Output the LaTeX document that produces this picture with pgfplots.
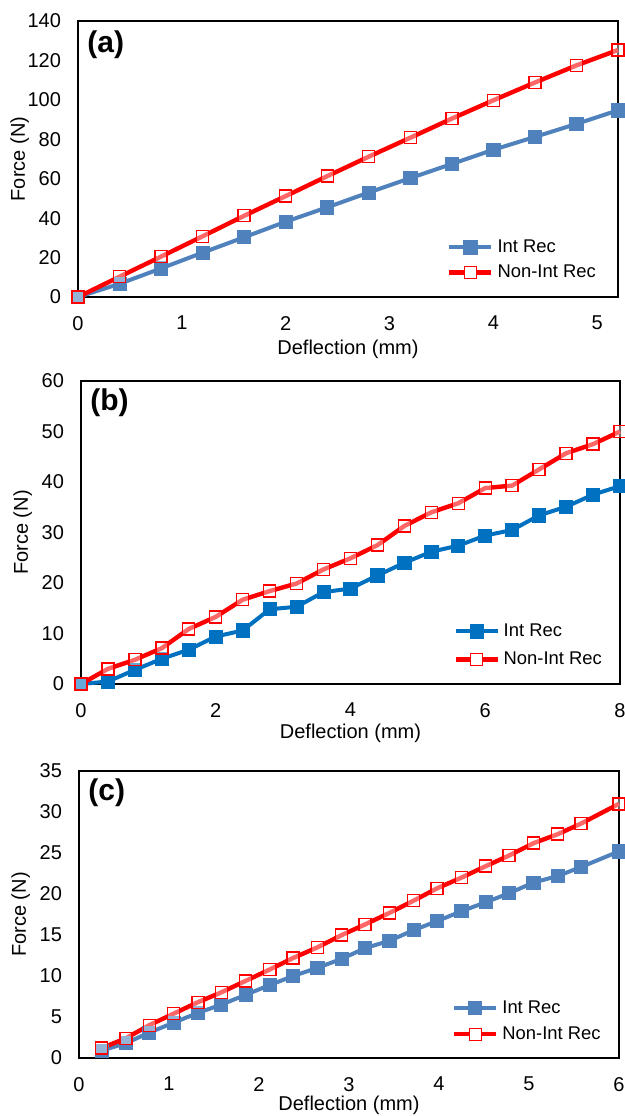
\documentclass[border=0pt]{standalone}
\usepackage{pgfplots}
\pgfplotsset{compat=1.18}
\usepackage{fontspec}
\setmainfont{Liberation Sans}

\definecolor{intA}{HTML}{4F81BD}
\definecolor{intB}{HTML}{0070C0}
\definecolor{nonint}{HTML}{FF0000}

\pgfplotsset{
  panel/.style={
    scale only axis,
    width=270pt,
    axis line style={black, line width=1pt},
    major tick length=0pt,
    xmin=0, ymin=0,
    clip=false,
    /pgf/number format/assume math mode=true,
    tick label style={font=\fontsize{10}{12}\selectfont},
    label style={font=\fontsize{10}{12}\selectfont},
    yticklabel style={xshift=-5pt},
    xticklabel style={yshift=-6pt},
    xlabel={Deflection (mm)},
    ylabel={Force (N)},
    ylabel style={at={(axis description cs:-0.108,0.5)}, anchor=center},
    legend cell align=left,
    legend image code/.code={
      \draw[mark repeat=2,mark phase=2,##1] plot coordinates {(0pt,0pt) (10.5pt,0pt) (21pt,0pt)};},
    legend style={draw=none, fill=none, inner sep=0pt,
      font=\fontsize{9.2}{11}\selectfont,
      nodes={inner sep=0pt, text height=7pt, text depth=2pt},
      /tikz/every odd column/.append style={column sep=2pt}},
  },
  intrec/.style={#1, line width=2pt, mark=square*, mark size=3.3pt,
    mark options={solid, line width=0.4pt, draw=#1, fill=#1}},
  nonrec/.style={nonint, line width=2.2pt, mark=square*, mark size=3pt,
    mark options={solid, line width=0.7pt, draw=nonint, fill=white, fill opacity=0.4}},
  nonleg/.style={nonint, line width=2.2pt, mark=square*, mark size=3pt,
    mark options={solid, line width=0.7pt, draw=nonint, fill=white}},
}

\begin{document}
\begin{tikzpicture}
\useasboundingbox (0,0) rectangle (312.5pt,-558pt);

% (a)
\begin{axis}[panel,
  at={(39pt,-148.5pt)}, anchor=south west,
  height=138pt,
  xmax=5.2, ymax=140,
  xtick={0,1,2,3,4,5}, ytick={0,20,...,140},
  xlabel style={at={(axis description cs:0.5,0)}, anchor=center, yshift=-26pt},
  legend style={at={(0.683,0.055)}, anchor=south west,
    /tikz/row sep=3.5pt},
]
\addlegendimage{intrec=intA}
\addlegendentry{Int Rec}
\addlegendimage{nonleg}
\addlegendentry{Non-Int Rec}
\addplot[intrec=intA, forget plot] coordinates {
  (0,0) (0.4,6.7) (0.8,14.5) (1.2,22.5) (1.6,30.3) (2.0,38.2) (2.4,45.5)
  (2.8,53.0) (3.2,60.3) (3.6,67.5) (4.0,74.7) (4.4,81.2) (4.8,87.8) (5.2,94.7)
};
\addplot[nonrec, forget plot] coordinates {
  (0,0) (0.4,10.3) (0.8,20.5) (1.2,30.8) (1.6,41.2) (2.0,51.2) (2.4,61.3)
  (2.8,71.2) (3.2,80.8) (3.6,90.5) (4.0,99.8) (4.4,108.8) (4.8,117.5) (5.2,125.3)
};
\node[anchor=north west, inner sep=0pt, font=\fontsize{15}{18}\selectfont\bfseries]
  at ([xshift=4.5pt,yshift=-4.5pt]rel axis cs:0,1) {(a)};
\end{axis}

% (b)
\begin{axis}[panel,
  at={(40.5pt,-342pt)}, anchor=south west,
  width=269.5pt, height=151.5pt,
  xmax=8, ymax=60,
  xtick={0,2,4,6,8}, ytick={0,10,...,60},
  xlabel style={at={(axis description cs:0.5,0)}, anchor=center, yshift=-24.5pt},
  legend style={at={(0.69,0.05)}, anchor=south west,
    /tikz/row sep=5pt},
]
\addlegendimage{intrec=intB}
\addlegendentry{Int Rec}
\addlegendimage{nonleg}
\addlegendentry{Non-Int Rec}
\addplot[intrec=intB, forget plot] coordinates {
  (0,0) (0.4,0.5) (0.8,2.8) (1.2,5.0) (1.6,6.8) (2.0,9.4) (2.4,10.6)
  (2.8,14.8) (3.2,15.3) (3.6,18.2) (4.0,18.9) (4.4,21.5) (4.8,24.0)
  (5.2,26.2) (5.6,27.4) (6.0,29.4) (6.4,30.5) (6.8,33.4) (7.2,35.1)
  (7.6,37.5) (8.0,39.2)
};
\addplot[nonrec, forget plot] coordinates {
  (0,0) (0.4,3.0) (0.8,4.8) (1.2,7.1) (1.6,10.9) (2.0,13.3) (2.4,16.7)
  (2.8,18.4) (3.2,19.9) (3.6,22.7) (4.0,24.9) (4.4,27.5) (4.8,31.3)
  (5.2,34.0) (5.6,35.8) (6.0,38.8) (6.4,39.3) (6.8,42.5) (7.2,45.7)
  (7.6,47.5) (8.0,50.0)
};
\node[anchor=north west, inner sep=0pt, font=\fontsize{15}{18}\selectfont\bfseries]
  at ([xshift=4.5pt,yshift=-3.5pt]rel axis cs:0,1) {(b)};
\end{axis}

% (c)
\begin{axis}[panel,
  at={(39.5pt,-529pt)}, anchor=south west,
  height=143.5pt,
  xmax=6, ymax=35,
  xtick={0,1,2,3,4,5,6}, ytick={0,5,...,35},
  xlabel style={at={(axis description cs:0.5,0)}, anchor=center, yshift=-23.5pt},
  legend style={at={(0.69,0.05)}, anchor=south west,
    /tikz/row sep=4pt},
]
\addlegendimage{intrec=intA}
\addlegendentry{Int Rec}
\addlegendimage{nonleg}
\addlegendentry{Non-Int Rec}
\addplot[intrec=intA, forget plot] coordinates {
  (0.25,0.9) (0.52,1.8) (0.78,3.1) (1.05,4.3) (1.32,5.5) (1.58,6.5)
  (1.85,7.7) (2.12,8.9) (2.38,10.0) (2.65,11.0) (2.92,12.1) (3.18,13.4)
  (3.45,14.3) (3.72,15.6) (3.98,16.7) (4.25,17.9) (4.52,19.0) (4.78,20.1)
  (5.05,21.4) (5.32,22.2) (5.58,23.3) (6.0,25.2)
};
\addplot[nonrec, forget plot] coordinates {
  (0.25,1.2) (0.52,2.4) (0.78,4.0) (1.05,5.4) (1.32,6.8) (1.58,8.0)
  (1.85,9.4) (2.12,10.8) (2.38,12.2) (2.65,13.5) (2.92,15.0) (3.18,16.3)
  (3.45,17.7) (3.72,19.2) (3.98,20.7) (4.25,22.0) (4.52,23.4) (4.78,24.7)
  (5.05,26.2) (5.32,27.3) (5.58,28.6) (6.0,31.0)
};
\node[anchor=north west, inner sep=0pt, font=\fontsize{15}{18}\selectfont\bfseries]
  at ([xshift=4.5pt,yshift=-3.5pt]rel axis cs:0,1) {(c)};
\end{axis}
\end{tikzpicture}
\end{document}
